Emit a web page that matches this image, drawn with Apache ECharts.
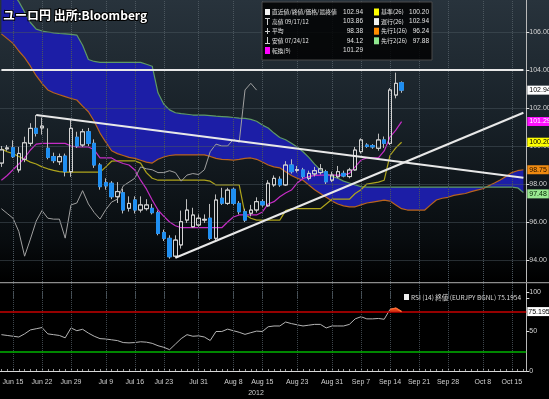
<!DOCTYPE html>
<html><head><meta charset="utf-8">
<script src="https://cdn.jsdelivr.net/npm/echarts@6/dist/echarts.min.js"></script>
<style>html,body{margin:0;padding:0;background:#000;}#c{width:549px;height:399px;}</style>
</head><body><div id="c"></div>
<script>
// ---- categories (trading days, 2012) ----
const dates = ['06/13','06/14','06/15','06/18','06/19','06/20','06/21','06/22','06/25','06/26','06/27','06/28','06/29',
'07/02','07/03','07/04','07/05','07/06','07/09','07/10','07/11','07/12','07/13','07/16','07/17','07/18','07/19','07/20','07/23','07/24','07/25','07/26','07/27','07/30','07/31',
'08/01','08/02','08/03','08/06','08/07','08/08','08/09','08/10','08/13','08/14','08/15','08/16','08/17','08/20','08/21','08/22','08/23','08/24','08/27','08/28','08/29','08/30','08/31',
'09/03','09/04','09/05','09/06','09/07','09/10','09/11','09/12','09/13','09/14','09/17','09/18','09/19','09/20','09/21','09/24','09/25','09/26','09/27','09/28',
'10/01','10/02','10/03','10/04','10/05','10/08','10/09','10/10','10/11','10/12','10/15','10/16','10/17'];
const labelDates = ['06/15','06/22','06/29','07/09','07/16','07/23','07/31','08/08','08/15','08/23','08/31','09/07','09/14','09/21','09/28','10/08','10/15'];
const priceTicks = [94,96,98,100,102,104,106];

// ---- candles (06/13 .. 09/18) ----
const open  = [99.10,99.85,99.91,98.74,99.30,100.14,100.93,100.95,99.88,99.44,99.17,99.47,98.65,100.46,100.05,100.75,100.14,99.00,98.07,98.04,97.33,97.54,96.72,97.16,96.63,96.70,96.72,96.49,95.44,95.14,94.20,94.79,96.10,95.75,95.84,96.10,96.20,95.14,97.25,96.98,97.72,96.98,96.54,96.46,96.63,97.07,96.85,97.95,98.25,97.95,99.00,98.72,98.74,98.30,98.53,98.60,98.65,98.20,98.38,98.56,98.39,98.74,99.70,100.05,100.02,99.88,100.32,100.14,102.68,103.33];
const close = [99.80,99.90,99.44,99.61,100.17,100.93,100.67,101.05,99.40,99.23,99.44,98.65,100.93,100.00,100.75,100.14,99.00,97.86,97.90,97.33,97.60,96.63,96.98,96.63,96.90,96.90,96.49,95.40,95.14,94.17,95.05,96.02,96.63,96.37,96.20,96.14,95.14,97.16,96.99,97.68,96.98,96.54,96.10,96.63,97.07,96.90,98.04,98.30,97.95,99.00,98.65,98.76,98.39,98.56,98.70,98.80,98.12,98.47,98.65,98.42,98.74,99.79,100.32,99.98,99.95,100.32,100.14,102.95,103.30,102.94];
const low   = [98.90,99.75,99.37,98.60,99.15,100.00,100.50,100.60,99.30,99.10,99.00,98.40,98.38,99.90,99.95,100.00,98.85,97.70,97.70,97.20,97.00,96.45,96.55,96.45,96.50,96.60,96.40,95.30,95.00,94.07,94.12,94.60,95.95,95.70,95.75,95.95,95.05,95.05,96.90,96.90,96.90,96.40,96.00,96.30,96.50,96.80,96.80,97.85,97.85,97.90,98.55,98.60,98.30,98.20,98.40,98.50,98.00,98.10,98.30,98.35,98.30,98.70,99.60,99.90,99.85,99.75,99.90,100.05,102.51,102.80];
const high  = [100.00,100.05,100.30,99.95,100.49,101.20,101.63,101.50,100.93,99.65,99.60,99.60,101.37,100.75,100.90,100.95,100.35,99.10,98.30,98.15,98.10,97.75,97.35,97.35,97.35,97.20,96.95,96.60,95.60,95.30,95.30,96.60,97.20,96.75,96.40,96.40,96.95,97.45,97.80,97.80,97.80,97.10,96.70,96.90,97.30,97.20,98.20,98.45,98.40,99.20,99.30,98.95,98.85,98.70,98.90,99.05,98.75,98.65,98.95,98.70,98.85,99.95,100.40,100.15,100.10,100.65,100.50,103.05,103.86,103.40];

// ---- ichimoku lines ----
const tenkan = [98.20,98.45,98.75,99.05,99.37,99.79,100.10,100.14,100.14,100.14,100.14,100.14,100.00,99.95,99.95,99.95,99.80,99.37,99.37,99.37,99.20,99.08,99.00,98.74,98.20,97.74,97.16,96.63,96.30,96.00,95.80,95.70,95.70,95.70,95.70,95.70,95.70,95.70,95.70,96.00,96.26,96.37,96.37,96.37,96.37,96.53,96.95,97.07,97.33,97.53,97.68,98.05,98.29,98.39,98.45,98.47,98.47,98.47,98.47,98.47,98.56,98.90,99.26,99.37,99.37,99.37,99.74,100.47,100.84,101.28];
const kijun  = [99.85,99.70,99.60,99.45,99.30,99.15,99.05,98.90,98.80,98.72,98.65,98.62,98.62,98.62,98.62,98.62,98.62,98.62,98.90,99.20,99.22,99.22,99.22,99.22,99.10,98.60,98.30,98.20,98.20,98.20,98.20,98.20,98.20,98.20,98.20,98.20,98.15,97.95,97.95,97.95,97.95,97.95,96.40,96.20,96.10,96.10,96.10,96.10,96.10,96.60,96.70,96.70,96.70,96.70,96.70,96.70,96.95,97.20,97.20,97.20,97.20,97.50,97.70,98.00,98.05,98.10,98.20,99.50,99.90,100.20];
const chikou = [96.70,96.45,96.20,95.50,94.20,95.10,96.05,96.60,96.20,96.15,96.15,95.15,96.90,97.00,97.65,96.95,96.50,96.15,96.65,97.05,97.20,97.90,98.10,98.30,98.90,98.80,98.75,98.60,98.60,98.70,98.60,98.15,98.47,98.55,98.50,98.75,99.70,100.10,100.00,100.00,100.35,100.20,102.95,103.30,102.94];
const spanA = [105.90,105.65,105.40,105.00,104.65,104.20,103.70,103.30,102.95,102.80,102.70,102.60,102.50,102.42,102.10,101.80,101.30,100.68,100.20,99.75,99.60,99.50,99.40,99.35,99.25,99.15,99.10,99.30,99.42,99.50,99.53,99.53,99.53,99.53,99.53,99.53,99.45,99.35,99.30,99.28,99.26,99.30,99.35,99.37,99.30,99.16,99.00,98.90,98.85,98.65,98.45,98.30,98.20,97.95,97.70,97.50,97.30,97.10,96.95,96.85,96.80,96.80,96.90,97.00,97.05,97.10,97.15,97.10,96.90,96.70,96.63,96.63,96.63,96.63,96.90,97.16,97.25,97.30,97.40,97.45,97.50,97.60,97.68,97.75,97.90,98.05,98.21,98.40,98.60,98.70,98.75];
const spanB = [108.80,108.40,108.00,107.60,107.05,106.50,106.15,106.05,106.00,105.95,105.92,105.90,105.87,105.84,105.30,104.55,104.45,104.40,104.40,104.40,104.40,104.40,104.40,104.40,104.40,104.30,104.20,102.80,102.20,101.90,101.75,101.70,101.67,101.63,101.63,101.63,101.60,101.57,101.55,101.53,101.50,101.47,101.45,101.40,101.30,101.10,100.95,100.68,100.45,100.33,100.15,99.95,99.70,99.40,99.05,98.74,98.55,98.40,98.30,98.15,98.05,97.95,97.86,97.84,97.84,97.84,97.84,97.84,97.84,97.84,97.84,97.84,97.84,97.84,97.84,97.84,97.84,97.84,97.84,97.84,97.84,97.84,97.84,97.84,97.84,97.84,97.84,97.84,97.84,97.80,97.55];

// ---- RSI(14) ----
const rsi = [46,45,44,43,47,52,53.5,55,47,46,45,42,54.5,51,52.8,48,44,41,40.5,39.5,38.5,36,35.6,36,37,36.5,35,32,30,27,34,41,46,44,44.5,43,38.6,50,50,53,51,49,46.4,48.5,50.5,50,56,57,57,62,60,58.5,57,58,59,59,54.5,57,57,57,59,66,68.7,66,66,66.5,65.5,78,79.5,75.2];
const rsiLevels = {high:75, low:25};

// ---- drawn trend lines (date, price) ----
const trendLines = [
  [['06/13',104.00],['10/17',104.00]],
  [['06/21',101.63],['10/17',98.33]],
  [['07/25',94.12],['10/17',101.75]]
];
// ---- right-axis value tags ----
const priceTags = [
  {v:102.94, text:'102.94', bg:'#ffffff', fg:'#000000'},
  {v:101.29, text:'101.29', bg:'#ff10ff', fg:'#ffffff'},
  {v:100.20, text:'100.20', bg:'#ffff00', fg:'#000000'},
  {v:98.75,  text:'98.75',  bg:'#f08a10', fg:'#201000'},
  {v:97.48,  text:'97.48',  bg:'#98e890', fg:'#002000'}
];
const legendRows = [
  ['直近値/終値/価格/最終値','102.94','基準(26)','100.20','#ffff00'],
  ['高値 09/17/12','103.86','遅行(26)','102.94','#f2f2f2'],
  ['平均','98.38','先行1(26)','96.24','#ff8c00'],
  ['安値 07/24/12','94.12','先行2(26)','97.88','#8fe88f'],
  ['転換(9)','101.29',null,null,null]
];

const FONT = '"Liberation Sans Narrow","Liberation Sans",Arial,sans-serif';
const JP = '"Noto Sans CJK JP",sans-serif';
const monthName = {'06':'Jun','07':'Jul','08':'Aug','09':'Sep','10':'Oct'};
const fmtDate = d => monthName[d.slice(0,2)] + ' ' + parseInt(d.slice(3),10);
const pad = arr => dates.map((d,i)=> i < arr.length ? arr[i] : null);

// wick layer (full range) + body layer (body only, so wicks stay grey for both colours)
const wickData = dates.map((d,i)=> i < open.length ? [open[i],close[i],low[i],high[i]] : '-');
const bodyData = dates.map((d,i)=> i < open.length ? [open[i],close[i],Math.min(open[i],close[i]),Math.max(open[i],close[i])] : '-');
const cloudBase = spanA.map((a,i)=> Math.min(a, spanB[i]));
const cloudBand = spanA.map((a,i)=> Math.abs(a - spanB[i]));
const rsiHot = pad(rsi.map((v,i)=> (i >= rsi.length-3 && v >= rsiLevels.high) ? v : null));

const chart = echarts.init(document.getElementById('c'));
const lineBase = (name, data, color, width, z) => ({
  name, type:'line', xAxisIndex:0, yAxisIndex:0, data, symbol:'none', z,
  lineStyle:{color, width}, silent:true, connectNulls:false
});

const series = [
  {type:'line', xAxisIndex:0, yAxisIndex:0, data:[], z:1, silent:true,
   markLine:{silent:true, symbol:['none','none'], label:{show:false}, animation:false,
     lineStyle:{type:'dotted', color:'#4b565e', width:1},
     data:[...labelDates.map(d=>({xAxis:d})), ...priceTicks.map(v=>({yAxis:v}))]}},
  {name:'cloudBase', type:'line', xAxisIndex:0, yAxisIndex:0, data:cloudBase, stack:'cloud', symbol:'none', lineStyle:{opacity:0}, z:2, silent:true},
  {name:'cloud', type:'line', xAxisIndex:0, yAxisIndex:0, data:cloudBand, stack:'cloud', symbol:'none', lineStyle:{opacity:0}, areaStyle:{color:'#1c1ea6', opacity:1}, z:2, silent:true},
  lineBase('先行1', spanA, '#b8641e', 1.2, 3),
  lineBase('先行2', spanB, '#5f9a64', 1.2, 3),
  lineBase('基準', pad(kijun), '#aea41c', 1.2, 4),
  lineBase('転換', pad(tenkan), '#c52cc5', 1.2, 4),
  lineBase('遅行', pad(chikou), '#a0a0a0', 1, 4),
  {name:'wick', type:'candlestick', xAxisIndex:0, yAxisIndex:0, data:wickData, barWidth:4, z:5, silent:true,
   itemStyle:{color:'rgba(0,0,0,0)', color0:'rgba(0,0,0,0)', borderColor:'#bdbdbd', borderColor0:'#bdbdbd', borderWidth:1}},
  {name:'price', type:'candlestick', xAxisIndex:0, yAxisIndex:0, data:bodyData, barWidth:4, z:6, silent:true,
   itemStyle:{color:'rgba(0,0,0,0)', color0:'#1f8ff2', borderColor:'#d4d4d4', borderColor0:'#1f8ff2', borderWidth:1}},
  ...trendLines.map(seg => ({type:'line', xAxisIndex:0, yAxisIndex:0, data:seg, symbol:'none', z:7, silent:true,
     lineStyle:{color:'#e8e8e8', width:2}})),
  {type:'line', xAxisIndex:0, yAxisIndex:0, data:[], z:8, silent:true,
   markLine:{silent:true, symbol:['none','none'], animation:false, lineStyle:{color:'rgba(0,0,0,0)', width:0},
     data: priceTags.map(t=>({yAxis:t.v, label:{show:true, position:'end', distance:1, formatter:t.text,
       backgroundColor:t.bg, color:t.fg, fontSize:7, fontFamily:FONT, padding:[1,2,1,2]}}))}},
  // RSI panel
  {type:'line', xAxisIndex:1, yAxisIndex:1, data:[], z:1, silent:true,
   markLine:{silent:true, symbol:['none','none'], label:{show:false}, animation:false,
     lineStyle:{type:'dotted', color:'#3e464c', width:1},
     data: labelDates.map(d=>({xAxis:d}))}},
  {type:'line', xAxisIndex:1, yAxisIndex:1, data:[], z:2, silent:true,
   markLine:{silent:true, symbol:['none','none'], label:{show:false}, animation:false,
     data:[{yAxis:rsiLevels.high, lineStyle:{color:'#c80000', width:1.5, type:'solid'}},
           {yAxis:rsiLevels.low, lineStyle:{color:'#00b400', width:1.5, type:'solid'}}]}},
  {name:'RSI', type:'line', xAxisIndex:1, yAxisIndex:1, data:pad(rsi), symbol:'none', z:4, silent:true,
   lineStyle:{color:'#b4b4b4', width:1}},
  {name:'RSIhot', type:'line', xAxisIndex:1, yAxisIndex:1, data:rsiHot, symbol:'none', z:5, silent:true,
   lineStyle:{color:'#ff6a30', width:1.5}, areaStyle:{origin:rsiLevels.high, color:'#e03a16', opacity:1}},
  {type:'line', xAxisIndex:1, yAxisIndex:1, data:[], z:7, silent:true,
   markLine:{silent:true, symbol:['none','none'], animation:false, lineStyle:{color:'rgba(0,0,0,0)', width:0},
     data:[{yAxis:75.1954, label:{show:true, position:'end', distance:1, formatter:'75.1954',
       backgroundColor:'#ffffff', color:'#000', fontSize:7, fontFamily:FONT, padding:[1,1,1,1]}}]}}
];

const graphic = [
  {type:'rect', shape:{x:0,y:282,width:549,height:1.2}, style:{fill:'#8c8c8c'}, z:50, silent:true},
  {type:'text', x:3, y:15, z:60, silent:true, style:{text:'ユーロ円 出所:Bloomberg', fill:'#ffffff', stroke:'#000000', lineWidth:2,
     font:'bold 12px '+JP, verticalAlign:'middle'}},
  {type:'rect', shape:{x:262,y:2,width:170,height:58}, style:{fill:'rgba(0,0,0,0.82)', stroke:'#4a4a4a', lineWidth:1}, z:60, silent:true},
  {type:'rect', shape:{x:265,y:9,width:5,height:6}, style:{fill:'#f4f4f4'}, z:61},
  {type:'rect', shape:{x:267,y:18,width:1,height:7}, style:{fill:'#cfcfcf'}, z:61},
  {type:'rect', shape:{x:265,y:18,width:5,height:1}, style:{fill:'#cfcfcf'}, z:61},
  {type:'rect', shape:{x:267,y:28,width:1,height:6}, style:{fill:'#cfcfcf'}, z:61},
  {type:'rect', shape:{x:265,y:31,width:5,height:1}, style:{fill:'#cfcfcf'}, z:61},
  {type:'rect', shape:{x:267,y:37,width:1,height:7}, style:{fill:'#cfcfcf'}, z:61},
  {type:'rect', shape:{x:265,y:43,width:5,height:1}, style:{fill:'#cfcfcf'}, z:61},
  {type:'rect', shape:{x:265,y:47,width:5,height:7}, style:{fill:'#ff00ff'}, z:61},
  // RSI legend
  {type:'rect', shape:{x:404,y:294,width:5,height:6}, style:{fill:'#eeeeee'}, z:60},
  {type:'text', x:411, y:297.5, z:60, silent:true, style:{text:'RSI (14) 終値 (EURJPY BGNL) 75.1954', fill:'#dcdcdc', font:'6.5px '+JP, verticalAlign:'middle'}},
  {type:'text', x:256, y:393, z:60, silent:true, style:{text:'2012', fill:'#cfcfcf', font:'7px '+FONT, align:'center', verticalAlign:'middle'}}
];
legendRows.forEach((r,k)=>{
  const y = 12 + k*9.6;
  graphic.push({type:'text', x:272, y, z:62, silent:true, style:{text:r[0], fill:'#e2e2e2', font:'5.8px '+JP, verticalAlign:'middle'}});
  graphic.push({type:'text', x:363, y, z:62, silent:true, style:{text:r[1], fill:'#e2e2e2', font:'6.5px '+FONT, align:'right', verticalAlign:'middle'}});
  if (r[2]) {
    graphic.push({type:'rect', shape:{x:374,y:y-3.5,width:5,height:7}, style:{fill:r[4]}, z:62});
    graphic.push({type:'text', x:381, y, z:62, silent:true, style:{text:r[2], fill:'#e2e2e2', font:'6px '+JP, verticalAlign:'middle'}});
    graphic.push({type:'text', x:429, y, z:62, silent:true, style:{text:r[3], fill:'#e2e2e2', font:'6.5px '+FONT, align:'right', verticalAlign:'middle'}});
  }
});

const option = {
  animation:false,
  backgroundColor:{type:'linear', x:0, y:0, x2:0, y2:1, colorStops:[
    {offset:0, color:'#28333c'}, {offset:0.3, color:'#182128'}, {offset:0.6, color:'#080c0f'},
    {offset:0.705, color:'#000000'}, {offset:1, color:'#000000'}]},
  grid:[
    {left:-1.5, width:527.8, top:-6, height:304, containLabel:false, outerBoundsMode:'none'},
    {left:-1.5, width:527.8, top:292, height:79, containLabel:false, outerBoundsMode:'none'}
  ],
  xAxis:[
    {type:'category', gridIndex:0, data:dates, boundaryGap:true, axisLine:{show:false}, axisTick:{show:false}, axisLabel:{show:false}, splitLine:{show:false}},
    {type:'category', gridIndex:1, data:dates, boundaryGap:true, offset:5,
     axisLine:{show:true, lineStyle:{color:'#d8d8d8', width:1}},
     axisTick:{show:true, interval:0, inside:true, length:2, alignWithLabel:true, lineStyle:{color:'#9a9a9a'}},
     axisLabel:{show:true, interval:(i,v)=>labelDates.includes(v), formatter:fmtDate, fontSize:7, color:'#d0d0d0', margin:3, fontFamily:FONT},
     splitLine:{show:false}}
  ],
  yAxis:[
    {type:'value', gridIndex:0, position:'right', min:92, max:108, interval:2, scale:true,
     axisLine:{show:true, lineStyle:{color:'#b8b8b8'}}, axisTick:{show:true, length:3, lineStyle:{color:'#e0e0e0'}},
     axisLabel:{fontSize:7, color:'#d4d4d4', margin:3, fontFamily:FONT, formatter:v=>(v<=92||v>=108)?'':v.toFixed(2)},
     splitLine:{show:false}},
    {type:'value', gridIndex:1, position:'right', min:0, max:100, interval:50,
     axisLine:{show:true, lineStyle:{color:'#b8b8b8'}}, axisTick:{show:true, length:3, lineStyle:{color:'#e0e0e0'}},
     axisLabel:{fontSize:7, color:'#d4d4d4', margin:3, fontFamily:FONT},
     splitLine:{show:false}}
  ],
  graphic,
  series
};
chart.setOption(option);
</script>
</body></html>
